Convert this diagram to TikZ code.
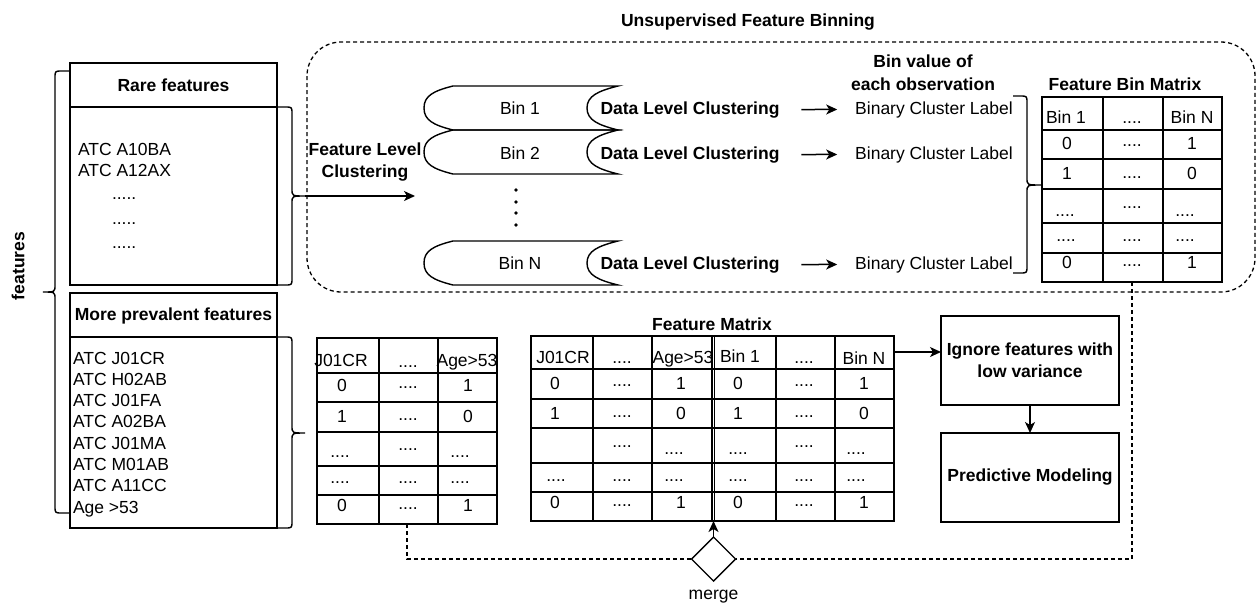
\documentclass[tikz,border=0pt]{standalone}
\usepackage{fontspec}
\setmainfont{Liberation Sans}
\usetikzlibrary{arrows.meta,calc,shapes.geometric}
\newcounter{celln}
\newcommand\cel[3]{\stepcounter{celln}\node[txt,anchor=base] (cell\arabic{celln}) at (#1,#2) {#3};}
\newcommand\binpath[1]{%
  \draw[line width=1.4pt] (453,#1) -- (618,#1) .. controls (598,{#1+5}) and (587,{#1+10}) .. (587,{#1+22})
   .. controls (587,{#1+34}) and (598,{#1+39}) .. (618,{#1+44}) -- (453,{#1+44})
   .. controls (433,{#1+39}) and (424,{#1+34}) .. (424,{#1+22})
   .. controls (424,{#1+10}) and (433,{#1+5}) .. (453,#1) -- cycle;}
% brace: #1 x0, #2 xv, #3 xtip, #4 top, #5 mid, #6 bottom, #7 signed radius
\newcommand\mybrace[7]{%
  \draw[line width=1.4pt] (#1,#4) -- ({#2-(#7)},#4) .. controls (#2,#4) .. (#2,{#4+abs(#7)})
   -- (#2,{#5-abs(#7)}) .. controls (#2,#5) .. (#3,#5)
   .. controls (#2,#5) .. (#2,{#5+abs(#7)}) -- (#2,{#6-abs(#7)})
   .. controls (#2,#6) .. ({#2-(#7)},#6) -- (#1,#6);}
\begin{document}
\begin{tikzpicture}[x=1pt,y=-1pt,line width=1.5pt,
  every node/.style={inner sep=0pt,outer sep=0pt},
  txt/.style={font=\fontsize{17.5}{21}\selectfont},
  bft/.style={font=\fontsize{17.5}{22}\selectfont\bfseries},
  arr/.style={-{Stealth[length=11pt,width=10pt,inset=3pt]}},
  dsh/.style={dash pattern=on 4pt off 3pt,line width=1.3pt},
  box/.style={draw,line width=1.5pt,anchor=north west}]
\useasboundingbox (0,0) rectangle (1258,603);

% title and dashed region
\node[bft,anchor=base] (title) at (748,26) {Unsupervised Feature Binning};
\draw[dsh,rounded corners=34pt] (307,42) rectangle (1255,292);

% features label and big brace
\node[bft,rotate=90] (feat) at (18,266) {features};
\mybrace{70}{55}{43}{71}{292}{513}{-7}

% Rare features box
\node[box,minimum width=207pt,minimum height=222pt] (rare) at (70,63) {};
\draw (70,107) -- (277,107);
\node[bft,anchor=base] (rareh) at (173.5,91) {Rare features};
\node[txt,anchor=base west] (r1) at (78,155) {ATC A10BA};
\node[txt,anchor=base west] (r2) at (78,176) {ATC A12AX};
\node[txt,anchor=base west] (r3) at (112,199) {.....};
\node[txt,anchor=base west] (r4) at (112,224) {.....};
\node[txt,anchor=base west] (r5) at (112,248) {.....};
\mybrace{277}{292}{305}{107}{196}{285}{7}

% More prevalent features box
\node[box,minimum width=207pt,minimum height=235pt] (prev) at (70,293) {};
\draw (70,337) -- (277,337);
\node[bft,anchor=base] (prevh) at (173.5,320) {More prevalent features};
\foreach \t [count=\i] in {ATC J01CR,ATC H02AB,ATC J01FA,ATC A02BA,ATC J01MA,ATC M01AB,ATC A11CC,Age >53}
  \node[txt,anchor=base west] (p\i) at (73,{364+(\i-1)*21.3}) {\t};
\mybrace{277}{292}{305}{337}{433}{528}{7}

% Feature level clustering arrow
\coordinate (rtip) at (305,196);
\coordinate (binsin) at (415,196);
\draw[arr] (rtip) -- (binsin);
\node[bft,anchor=north,align=center] (flc) at (365,143) {Feature Level\\Clustering};

% Bins
\binpath{86}
\binpath{130}
\binpath{241}
\node[txt,anchor=base] (bin1) at (520,114) {Bin 1};
\node[txt,anchor=base] (bin2) at (520,159) {Bin 2};
\node[txt,anchor=base] (binN) at (520,269) {Bin N};
\foreach \y [count=\i] in {190,202,213,225}
  \fill (516,\y) circle (1.9pt);

% Data level clustering -> binary cluster label
\foreach \b/\n in {114/1,159/2,269/3}{
  \node[bft,anchor=base] (dlc\n) at (690,\b) {Data Level Clustering};
  \node[txt,anchor=base] (bcl\n) at (934,\b) {Binary Cluster Label};
  \draw[arr,shorten <=22pt,shorten >=18pt] (dlc\n.east) -- (bcl\n.west);
}
\node[bft,anchor=north,align=center,font=\fontsize{17.5}{23}\selectfont\bfseries] (bv) at (923,55) {Bin value of\\each observation};
\mybrace{1013}{1027}{1041}{96}{185}{273}{7}

% Feature Bin Matrix
\node[bft,anchor=base] (fbmt) at (1125,90) {Feature Bin Matrix};
\node[box,minimum width=180pt,minimum height=185pt] (fbm) at (1042,97) {};
\foreach \x in {1103,1163} \draw (\x,97) -- (\x,282);
\foreach \y in {130,159,189,223,253} \draw (1042,\y) -- (1222,\y);
\cel{1066}{123}{Bin 1}\cel{1132}{123}{....}\cel{1192}{123}{Bin N}
\cel{1067}{149}{0}\cel{1132}{146}{....}\cel{1192}{149}{1}
\cel{1067}{179}{1}\cel{1132}{178}{....}\cel{1192}{179}{0}
\cel{1065}{216}{....}\cel{1132}{208}{....}\cel{1185}{216}{....}
\cel{1066}{241}{....}\cel{1132}{241}{....}\cel{1185}{241}{....}
\cel{1067}{268}{0}\cel{1132}{266}{....}\cel{1192}{268}{1}

% small table
\node[box,minimum width=180pt,minimum height=186pt] (t1) at (317,338) {};
\foreach \x in {379,438} \draw (\x,338) -- (\x,524);
\foreach \y in {373,402,432,466,495} \draw (317,\y) -- (497,\y);
\cel{341}{366}{J01CR}\cel{408}{367}{....}\cel{467}{366}{Age>53}
\cel{342}{391}{0}\cel{408}{388}{....}\cel{468}{391}{1}
\cel{342}{422}{1}\cel{408}{420}{....}\cel{468}{422}{0}
\cel{340}{457}{....}\cel{408}{450}{....}\cel{460}{457}{....}
\cel{340}{483}{....}\cel{408}{483}{....}\cel{460}{483}{....}
\cel{342}{511}{0}\cel{408}{509}{....}\cel{468}{511}{1}

% Feature Matrix
\node[bft,anchor=base] (fmt) at (712,330) {Feature Matrix};
\node[box,minimum width=363pt,minimum height=185pt] (fm) at (531,336) {};
\foreach \x in {593,652,712,714.5,776,835} \draw (\x,336) -- (\x,521);
\foreach \y in {369,399,428,463,492} \draw (531,\y) -- (894,\y);
\cel{563}{363}{J01CR}\cel{622}{363}{....}\cel{683}{363}{Age>53}\cel{740}{362}{Bin 1}\cel{804}{363}{....}\cel{864}{364}{Bin N}
\cel{555}{389}{0}\cel{622}{386}{....}\cel{681}{389}{1}\cel{738}{389}{0}\cel{804}{386}{....}\cel{864}{389}{1}
\cel{555}{419}{1}\cel{622}{417}{....}\cel{681}{419}{0}\cel{738}{419}{1}\cel{804}{417}{....}\cel{864}{419}{0}
\cel{622}{447}{....}\cel{674}{454}{....}\cel{738}{454}{....}\cel{804}{447}{....}\cel{856}{454}{....}
\cel{556}{481}{....}\cel{622}{481}{....}\cel{674}{481}{....}\cel{738}{481}{....}\cel{804}{481}{....}\cel{856}{481}{....}
\cel{555}{508}{0}\cel{622}{506}{....}\cel{681}{508}{1}\cel{738}{508}{0}\cel{804}{506}{....}\cel{864}{508}{1}

% right boxes
\node[box,bft,minimum width=178pt,minimum height=89pt,align=center,anchor=center] (ign) at (1030,360.5) {Ignore features with\\low variance};
\node[box,bft,minimum width=178pt,minimum height=89pt,align=center,anchor=center] (pred) at (1030,477.5) {Predictive Modeling};
\draw[arr] ([yshift=-16pt]fm.north east) -- ([yshift=-16pt]fm.north east -| ign.west);
\draw[arr] (ign.south) -- (pred.north);

% merge
\node[draw,diamond,line width=1.4pt,minimum width=44pt,minimum height=44pt,fill=white] (mrg) at (713.5,559) {};
\node[txt,anchor=base] (mrgl) at (713.5,599.5) {merge};
\draw[dsh] (t1.south) |- (mrg.west);
\draw[dsh] (fbm.south) |- (mrg.east);
\draw[arr] (mrg.north) -- (mrg.north |- fm.south);
\end{tikzpicture}
\end{document}
